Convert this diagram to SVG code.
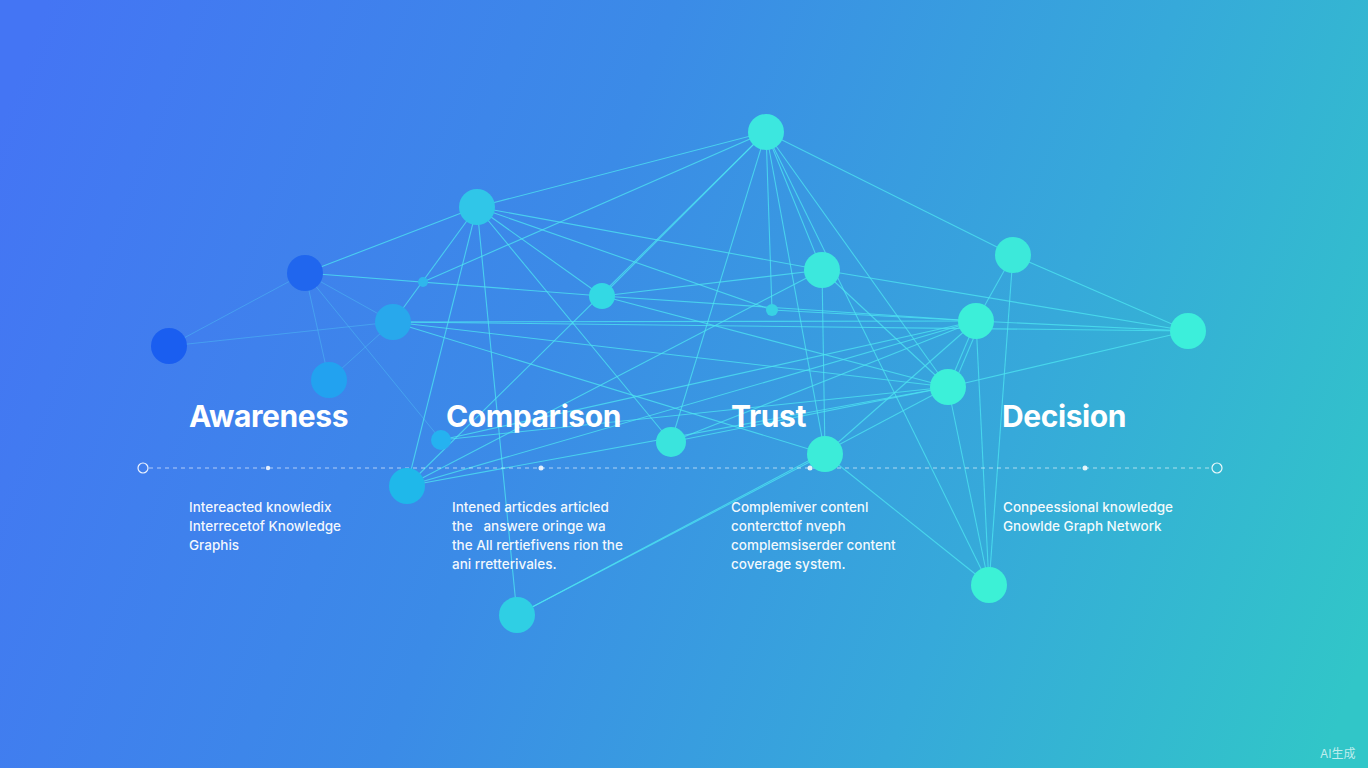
<svg xmlns="http://www.w3.org/2000/svg" width="1368" height="768" viewBox="0 0 1368 768">
<defs>
<linearGradient id="bg" x1="0" y1="120" x2="1368" y2="648" gradientUnits="userSpaceOnUse">
<stop offset="0" stop-color="#4475f4"/>
<stop offset="0.4" stop-color="#3b8be7"/>
<stop offset="0.72" stop-color="#36a9da"/>
<stop offset="1" stop-color="#31c6c8"/>
</linearGradient>
<style>
.e{stroke:#4ee6f2;stroke-width:1.1;stroke-opacity:0.75;fill:none}
.ef{stroke:#4cb8f4;stroke-width:1;stroke-opacity:0.55;fill:none}
.ttl{font-family:Inter,"Liberation Sans",sans-serif;font-weight:700;font-size:30px;fill:#ffffff;letter-spacing:-0.4px}
.body{font-family:Inter,"Liberation Sans",sans-serif;font-size:13.5px;font-weight:500;fill:#ffffff;fill-opacity:0.95}
.ring{fill:none;stroke:#ffffff;stroke-width:1.2;stroke-opacity:0.9}
.tick{fill:#ffffff;fill-opacity:0.85}
</style>
</defs>
<rect width="1368" height="768" fill="url(#bg)"/>

<g id="connectors">
<line class="ef" x1="169" y1="346" x2="305" y2="273"/>
<line class="ef" x1="169" y1="346" x2="393" y2="322"/>
<line class="ef" x1="305" y1="273" x2="329" y2="380"/>
<line class="ef" x1="305" y1="273" x2="393" y2="322"/>
<line class="ef" x1="305" y1="273" x2="441" y2="440"/>
<line class="ef" x1="329" y1="380" x2="393" y2="322"/>
<line class="e" x1="305" y1="273" x2="477" y2="207"/>
<line class="e" x1="305" y1="273" x2="602" y2="296"/>
<line class="e" x1="477" y1="207" x2="766" y2="132"/>
<line class="e" x1="477" y1="207" x2="822" y2="270"/>
<line class="e" x1="477" y1="207" x2="772" y2="310"/>
<line class="e" x1="477" y1="207" x2="602" y2="296"/>
<line class="e" x1="477" y1="207" x2="671" y2="442"/>
<line class="e" x1="477" y1="207" x2="407" y2="486"/>
<line class="e" x1="477" y1="207" x2="517" y2="615"/>
<line class="e" x1="477" y1="207" x2="393" y2="322"/>
<line class="e" x1="766" y1="132" x2="423" y2="282"/>
<line class="e" x1="766" y1="132" x2="602" y2="296"/>
<line class="e" x1="766" y1="132" x2="407" y2="486"/>
<line class="e" x1="766" y1="132" x2="671" y2="442"/>
<line class="e" x1="766" y1="132" x2="772" y2="310"/>
<line class="e" x1="766" y1="132" x2="822" y2="270"/>
<line class="e" x1="766" y1="132" x2="948" y2="387"/>
<line class="e" x1="766" y1="132" x2="1013" y2="255"/>
<line class="e" x1="766" y1="132" x2="989" y2="585"/>
<line class="e" x1="766" y1="132" x2="825" y2="454"/>
<line class="e" x1="393" y1="322" x2="976" y2="321"/>
<line class="e" x1="393" y1="322" x2="948" y2="387"/>
<line class="e" x1="393" y1="322" x2="1188" y2="331"/>
<line class="e" x1="393" y1="322" x2="825" y2="454"/>
<line class="e" x1="602" y1="296" x2="822" y2="270"/>
<line class="e" x1="602" y1="296" x2="976" y2="321"/>
<line class="e" x1="602" y1="296" x2="948" y2="387"/>
<line class="e" x1="822" y1="270" x2="1188" y2="331"/>
<line class="e" x1="822" y1="270" x2="948" y2="387"/>
<line class="e" x1="822" y1="270" x2="825" y2="454"/>
<line class="e" x1="822" y1="270" x2="407" y2="486"/>
<line class="e" x1="1013" y1="255" x2="1188" y2="331"/>
<line class="e" x1="1013" y1="255" x2="976" y2="321"/>
<line class="e" x1="1013" y1="255" x2="989" y2="585"/>
<line class="e" x1="976" y1="321" x2="1188" y2="331"/>
<line class="e" x1="976" y1="321" x2="948" y2="387"/>
<line class="e" x1="980" y1="323" x2="952" y2="389"/>
<line class="e" x1="976" y1="321" x2="989" y2="585"/>
<line class="e" x1="1188" y1="331" x2="948" y2="387"/>
<line class="e" x1="948" y1="387" x2="989" y2="585"/>
<line class="e" x1="825" y1="454" x2="989" y2="585"/>
<line class="e" x1="825" y1="454" x2="517" y2="615"/>
<line class="e" x1="825" y1="454" x2="976" y2="321"/>
<line class="e" x1="517" y1="615" x2="948" y2="387"/>
<line class="e" x1="407" y1="486" x2="976" y2="321"/>
<line class="e" x1="407" y1="486" x2="948" y2="387"/>
<line class="e" x1="671" y1="442" x2="976" y2="321"/>
<line class="e" x1="671" y1="442" x2="948" y2="387"/>
<line class="e" x1="441" y1="440" x2="976" y2="321"/>
<line class="e" x1="441" y1="440" x2="948" y2="387"/>
<line class="e" x1="772" y1="310" x2="976" y2="321"/>
</g>

<g id="timeline">
<line x1="149" y1="468" x2="1211" y2="468" stroke="#ffffff" stroke-opacity="0.6" stroke-width="1" stroke-dasharray="4 4"/>
<circle class="ring" cx="143" cy="468" r="5"/>
<circle class="ring" cx="1217" cy="468" r="5"/>
<circle class="tick" cx="268" cy="468" r="2.2"/>
<circle class="tick" cx="541" cy="468" r="2.5"/>
<circle class="tick" cx="810" cy="468" r="2.5"/>
<circle class="tick" cx="1085" cy="468" r="2.5"/>
</g>

<g id="node-A"><circle cx="169" cy="346" r="18" fill="#1a5ef0"/></g>
<g id="node-B"><circle cx="305" cy="273" r="18" fill="#2066ee"/></g>
<g id="node-C"><circle cx="477" cy="207" r="18" fill="#30c6e8"/></g>
<g id="node-D"><circle cx="766" cy="132" r="18" fill="#3ce7df"/></g>
<g id="node-E"><circle cx="393" cy="322" r="18" fill="#28a8ec"/></g>
<g id="node-F"><circle cx="329" cy="380" r="18" fill="#22a2f0"/></g>
<g id="node-G"><circle cx="423" cy="282" r="5" fill="#2fb6ec"/></g>
<g id="node-H"><circle cx="602" cy="296" r="13" fill="#33d9e4"/></g>
<g id="node-I"><circle cx="822" cy="270" r="18" fill="#3ce8dd"/></g>
<g id="node-J"><circle cx="772" cy="310" r="6" fill="#38d2e4"/></g>
<g id="node-K"><circle cx="1013" cy="255" r="18" fill="#3ce9da"/></g>
<g id="node-L"><circle cx="976" cy="321" r="18" fill="#3cefd9"/></g>
<g id="node-M"><circle cx="1188" cy="331" r="18" fill="#3cefdb"/></g>
<g id="node-N"><circle cx="948" cy="387" r="18" fill="#3cf0d9"/></g>
<g id="node-O"><circle cx="441" cy="440" r="10" fill="#25b2f0"/></g>
<g id="node-P"><circle cx="671" cy="442" r="15" fill="#3ae4dd"/></g>
<g id="node-Q"><circle cx="825" cy="454" r="18" fill="#3cecd9"/></g>
<g id="node-R"><circle cx="407" cy="486" r="18" fill="#1fb8ea"/></g>
<g id="node-S"><circle cx="517" cy="615" r="18" fill="#2fcfe4"/></g>
<g id="node-T"><circle cx="989" cy="585" r="18" fill="#3cf1d6"/></g>

<g id="stage-awareness">
<text class="ttl" x="189" y="427">Awareness</text>
<text class="body" x="189" y="512">Intereacted knowledix</text>
<text class="body" x="189" y="531">Interrecetof Knowledge</text>
<text class="body" x="189" y="550">Graphis</text>
</g>
<g id="stage-comparison">
<text class="ttl" x="446" y="427">Comparison</text>
<text class="body" x="452" y="512">Intened articdes articled</text>
<text class="body" x="452" y="531" xml:space="preserve">the&#160;  answere oringe wa</text>
<text class="body" x="452" y="550">the All rertiefivens rion the</text>
<text class="body" x="452" y="569">ani rretterivales.</text>
</g>
<g id="stage-trust">
<text class="ttl" x="731" y="427">Trust</text>
<text class="body" x="731" y="512">Complemiver contenl</text>
<text class="body" x="731" y="531">contercttof nveph</text>
<text class="body" x="731" y="550">complemsiserder content</text>
<text class="body" x="731" y="569">coverage system.</text>
</g>
<g id="stage-decision">
<text class="ttl" x="1002" y="427">Decision</text>
<text class="body" x="1003" y="512">Conpeessional knowledge</text>
<text class="body" x="1003" y="531">Gnowlde Graph Network</text>
</g>

<text x="1320" y="758" font-family="Inter,'Liberation Sans','Noto Sans CJK SC',sans-serif" font-size="12" fill="#ffffff" fill-opacity="0.7">AI生成</text>
</svg>
